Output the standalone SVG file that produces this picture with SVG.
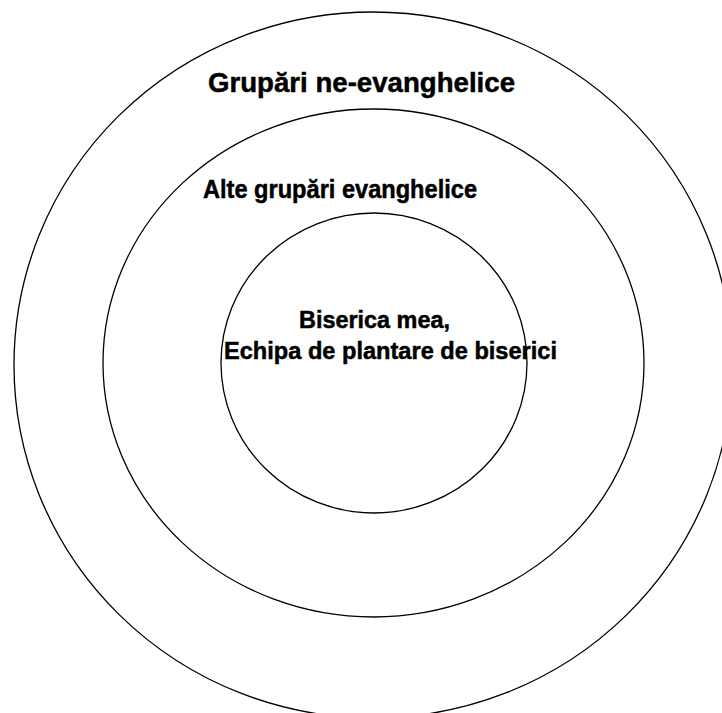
<svg xmlns="http://www.w3.org/2000/svg" width="722" height="713" viewBox="0 0 722 713">
  <style>
    .ring { fill: none; stroke: #000; stroke-width: 1.3; }
    .lbl { font-family: "Liberation Sans", Arial, sans-serif; font-weight: bold; fill: #000; stroke: #000; stroke-width: 0.5; }
  </style>
  <rect x="0" y="0" width="722" height="713" fill="#fff"/>
  <g id="outer">
    <ellipse class="ring" cx="373" cy="365" rx="359" ry="353"/>
    <text class="lbl" x="208" y="92" font-size="28.5" textLength="307" lengthAdjust="spacingAndGlyphs">Grupări ne-evanghelice</text>
  </g>
  <g id="middle">
    <ellipse class="ring" cx="373.5" cy="363" rx="270.5" ry="254"/>
    <text class="lbl" x="203" y="198" font-size="26" textLength="274" lengthAdjust="spacingAndGlyphs">Alte grupări evanghelice</text>
  </g>
  <g id="inner">
    <ellipse class="ring" cx="374" cy="363" rx="153" ry="150"/>
    <text class="lbl" x="299" y="328" font-size="23" textLength="151" lengthAdjust="spacingAndGlyphs">Biserica mea,</text>
    <text class="lbl" x="224" y="359" font-size="23.5" textLength="333" lengthAdjust="spacingAndGlyphs">Echipa de plantare de biserici</text>
  </g>
</svg>
